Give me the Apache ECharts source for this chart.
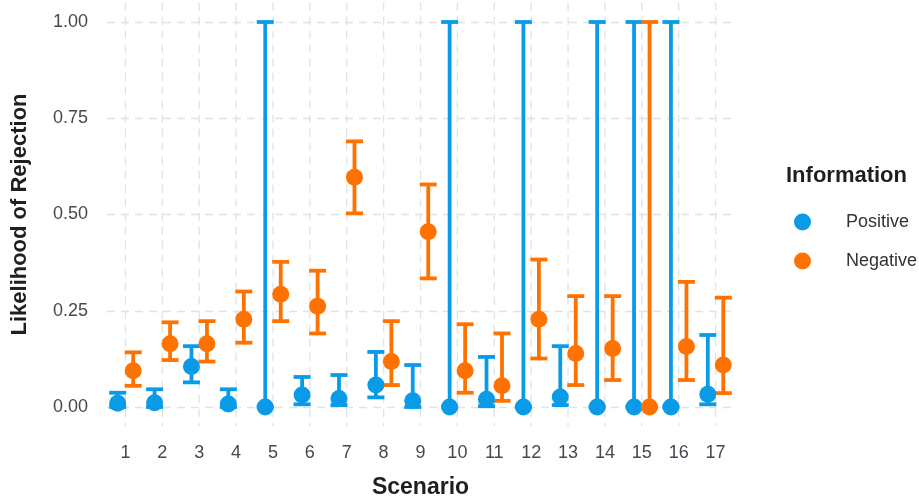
<!DOCTYPE html>
<html>
<head>
<meta charset="utf-8">
<script src="https://cdn.jsdelivr.net/npm/echarts@6/dist/echarts.min.js"></script>
<style>
  html, body { margin: 0; padding: 0; background: #ffffff; }
  #chart { width: 919px; height: 499px; }
</style>
</head>
<body>
<div id="chart"></div>
<script>
// Scenarios on the x axis
const scenarios = ['1','2','3','4','5','6','7','8','9','10','11','12','13','14','15','16','17'];

// Positive information: estimate and confidence bounds
const posEstimate = [0.010, 0.011, 0.105, 0.008, 0.000, 0.031, 0.022, 0.057, 0.016, 0.000, 0.020, 0.000, 0.026, 0.000, 0.000, 0.000, 0.033];
const posLower    = [0.000, 0.000, 0.064, 0.000, 0.000, 0.007, 0.005, 0.025, 0.000, 0.000, 0.002, 0.000, 0.005, 0.000, 0.000, 0.000, 0.007];
const posUpper    = [0.037, 0.046, 0.158, 0.046, 1.000, 0.078, 0.083, 0.143, 0.109, 1.000, 0.130, 1.000, 0.158, 1.000, 1.000, 1.000, 0.187];

// Negative information: estimate and confidence bounds
const negEstimate = [0.094, 0.164, 0.164, 0.228, 0.293, 0.262, 0.597, 0.118, 0.455, 0.094, 0.055, 0.228, 0.139, 0.152, 0.000, 0.157, 0.109];
const negLower    = [0.055, 0.122, 0.118, 0.167, 0.223, 0.191, 0.503, 0.057, 0.334, 0.037, 0.016, 0.126, 0.057, 0.070, 0.000, 0.070, 0.036];
const negUpper    = [0.142, 0.220, 0.223, 0.300, 0.377, 0.354, 0.690, 0.223, 0.578, 0.215, 0.191, 0.383, 0.288, 0.288, 1.000, 0.325, 0.284];

const yTicks = [0, 0.25, 0.5, 0.75, 1];

const BLUE = '#0A9BE8';
const ORANGE = '#FF7200';
const DODGE = 0.21;      // fraction of a category band each group is shifted
const CAP = 17;          // error bar cap width in px
const FONT = "'Liberation Sans', Arial, sans-serif";

function errorBars(color, shift) {
  return function (params, api) {
    const i = api.value(0);
    const band = api.size([1, 0])[0];
    const lo = api.coord([i, api.value(1)]);
    const hi = api.coord([i, api.value(2)]);
    const x = lo[0] + shift * band;
    const style = { stroke: color, lineWidth: 3.8, fill: null };
    return {
      type: 'group',
      children: [
        { type: 'line', shape: { x1: x, y1: lo[1], x2: x, y2: hi[1] }, style: style },
        { type: 'line', shape: { x1: x - CAP / 2, y1: lo[1], x2: x + CAP / 2, y2: lo[1] }, style: style },
        { type: 'line', shape: { x1: x - CAP / 2, y1: hi[1], x2: x + CAP / 2, y2: hi[1] }, style: style }
      ]
    };
  };
}

function points(color, shift) {
  return function (params, api) {
    const i = api.value(0);
    const band = api.size([1, 0])[0];
    const p = api.coord([i, api.value(1)]);
    return {
      type: 'circle',
      shape: { cx: p[0] + shift * band, cy: p[1], r: 8.5 },
      style: { fill: color }
    };
  };
}

const posBars = scenarios.map((s, i) => [i, posLower[i], posUpper[i]]);
const negBars = scenarios.map((s, i) => [i, negLower[i], negUpper[i]]);
const posPts = scenarios.map((s, i) => [i, posEstimate[i]]);
const negPts = scenarios.map((s, i) => [i, negEstimate[i]]);

const chart = echarts.init(document.getElementById('chart'), null, { renderer: 'canvas' });
chart.setOption({
  backgroundColor: '#ffffff',
  animation: false,
  title: {
    text: 'Information',
    left: 781,
    top: 160,
    textStyle: { fontFamily: FONT, fontSize: 22, fontWeight: 'bold', color: '#1f1f1f' }
  },
  legend: {
    orient: 'vertical',
    left: 789,
    top: 208,
    itemWidth: 17,
    itemHeight: 17,
    itemGap: 21,
    icon: 'circle',
    data: ['Positive', 'Negative'],
    textStyle: { fontFamily: FONT, fontSize: 18, color: '#333', padding: [0, 0, 0, 30] }
  },
  grid: { left: 107, right: 185, top: 22, bottom: 92, containLabel: false, outerBoundsMode: 'none' },
  xAxis: {
    type: 'category',
    data: scenarios,
    boundaryGap: true,
    name: 'Scenario',
    nameLocation: 'middle',
    nameGap: 69,
    nameTextStyle: { fontFamily: FONT, fontSize: 23, fontWeight: 'bold', color: '#1f1f1f' },
    axisLine: { show: false },
    axisTick: { show: false },
    splitLine: { show: false },
    axisLabel: { margin: 37, fontFamily: FONT, fontSize: 18, color: '#474752' }
  },
  yAxis: {
    type: 'value',
    min: 0,
    max: 1,
    interval: 0.25,
    name: 'Likelihood of Rejection',
    nameLocation: 'middle',
    nameGap: 76,
    nameTextStyle: { fontFamily: FONT, fontSize: 22, fontWeight: 'bold', color: '#1f1f1f' },
    axisLine: { show: false },
    axisTick: { show: false },
    axisLabel: {
      margin: 19,
      fontFamily: FONT, fontSize: 18, color: '#474752',
      formatter: v => yTicks.includes(v) ? v.toFixed(2) : ''
    },
    splitLine: { show: true, lineStyle: { color: '#e2e2e2', width: 1.3, type: [8, 6] } }
  },
  series: [
    {
      // vertical grid lines through each scenario
      type: 'custom',
      name: 'grid',
      silent: true,
      z: 0,
      clip: false,
      data: scenarios.map((s, i) => [i]),
      encode: { x: 0 },
      renderItem: function (params, api) {
        const top = api.coord([api.value(0), 1.05]);
        const bottom = api.coord([api.value(0), -0.05]);
        return {
          type: 'line',
          shape: { x1: top[0], y1: top[1], x2: bottom[0], y2: bottom[1] },
          style: { stroke: '#e2e2e2', lineWidth: 1.3, lineDash: [8, 6] }
        };
      }
    },
    {
      type: 'custom', name: 'Positive', z: 2, clip: false,
      itemStyle: { color: BLUE },
      data: posBars, encode: { x: 0, y: [1, 2] },
      renderItem: errorBars(BLUE, -DODGE)
    },
    {
      type: 'custom', name: 'Negative', z: 2, clip: false,
      itemStyle: { color: ORANGE },
      data: negBars, encode: { x: 0, y: [1, 2] },
      renderItem: errorBars(ORANGE, DODGE)
    },
    {
      type: 'custom', name: 'Positive', z: 3, clip: false,
      itemStyle: { color: BLUE },
      data: posPts, encode: { x: 0, y: 1 },
      renderItem: points(BLUE, -DODGE)
    },
    {
      type: 'custom', name: 'Negative', z: 3, clip: false,
      itemStyle: { color: ORANGE },
      data: negPts, encode: { x: 0, y: 1 },
      renderItem: points(ORANGE, DODGE)
    }
  ]
});
</script>
</body>
</html>
